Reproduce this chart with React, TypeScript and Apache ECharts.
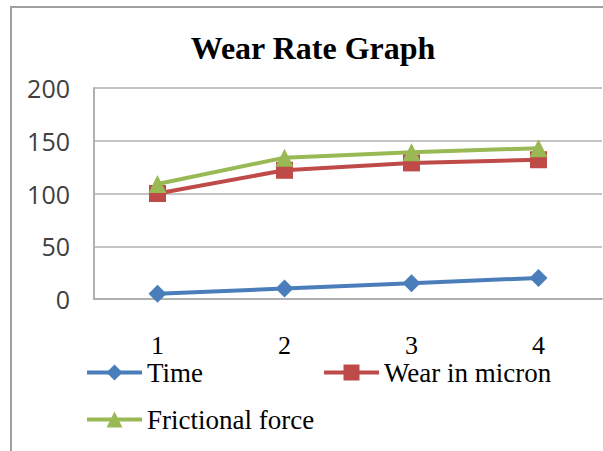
import React, { useEffect, useRef } from "react";
import * as echarts from "echarts";

const categories = ["1", "2", "3", "4"];
const timeValues = [5, 10, 15, 20];
const wearValues = [100, 122, 129, 132];
const frictionValues = [109, 134, 139, 143];
const seriesNames = ["Time", "Wear in micron", "Frictional force"];
const titleText = "Wear Rate Graph";

export default function App() {
  const ref = useRef<HTMLDivElement>(null);
  useEffect(() => {
    const chart = echarts.init(ref.current!, null, { renderer: "svg" });
    const serif = "'Liberation Serif', 'Times New Roman', serif";
    const legendText = { fontFamily: serif, fontSize: 27, lineHeight: 24, color: "#000" };
    const legendBase = {
      itemWidth: 55,
      itemHeight: 20,
      padding: 0,
      textStyle: legendText,
      lineStyle: { width: 4 },
    };
    chart.setOption({
      animation: false,
      backgroundColor: "#fff",
      graphic: [
        {
          type: "rect",
          shape: { x: 11, y: 7, width: 640, height: 480 },
          style: { fill: "none", stroke: "#a0a0a0", lineWidth: 2 },
          silent: true,
          z: 0,
        },
        {
          type: "text",
          x: 313,
          y: 48,
          style: {
            text: titleText,
            fontFamily: serif,
            fontWeight: "bold",
            fontSize: 32,
            fill: "#000",
            textAlign: "center",
            textVerticalAlign: "middle",
          },
        },
      ],
      legend: [
        { ...legendBase, data: [seriesNames[0]], left: 85, top: 359 },
        { ...legendBase, data: [seriesNames[1]], left: 322, top: 359 },
        { ...legendBase, data: [seriesNames[2]], left: 85, top: 406 },
      ],
      grid: { left: 94, top: 88, width: 508, height: 211, containLabel: false },
      xAxis: {
        type: "category",
        data: categories,
        boundaryGap: true,
        axisLine: { show: true, lineStyle: { color: "#b0b0b0", width: 2 } },
        axisTick: { show: false },
        axisLabel: {
          margin: 35,
          fontFamily: serif,
          fontSize: 26,
          lineHeight: 22,
          color: "#000",
        },
      },
      yAxis: {
        type: "value",
        min: 0,
        max: 200,
        interval: 50,
        axisLine: { show: true, lineStyle: { color: "#b0b0b0", width: 2 } },
        axisTick: { show: false },
        splitLine: { lineStyle: { color: "#c4c4c4", width: 2 } },
        axisLabel: {
          margin: 24,
          fontFamily: "'Open Sans', Lato, sans-serif",
          fontSize: 25,
          color: "#404040",
        },
      },
      series: [
        {
          name: seriesNames[0],
          type: "line",
          data: timeValues,
          symbol: "diamond",
          symbolSize: 18,
          itemStyle: { color: "#4a7ebb" },
          lineStyle: { color: "#4a7ebb", width: 4 },
        },
        {
          name: seriesNames[1],
          type: "line",
          data: wearValues,
          symbol: "rect",
          symbolSize: 17,
          itemStyle: { color: "#be4b48" },
          lineStyle: { color: "#be4b48", width: 4 },
        },
        {
          name: seriesNames[2],
          type: "line",
          data: frictionValues,
          symbol: "triangle",
          symbolSize: 18,
          itemStyle: { color: "#98b954" },
          lineStyle: { color: "#98b954", width: 4 },
        },
      ],
    });
    return () => chart.dispose();
  }, []);
  return (
    <div
      ref={ref}
      style={{ position: "fixed", left: 0, top: 0, width: 603, height: 451 }}
    />
  );
}
